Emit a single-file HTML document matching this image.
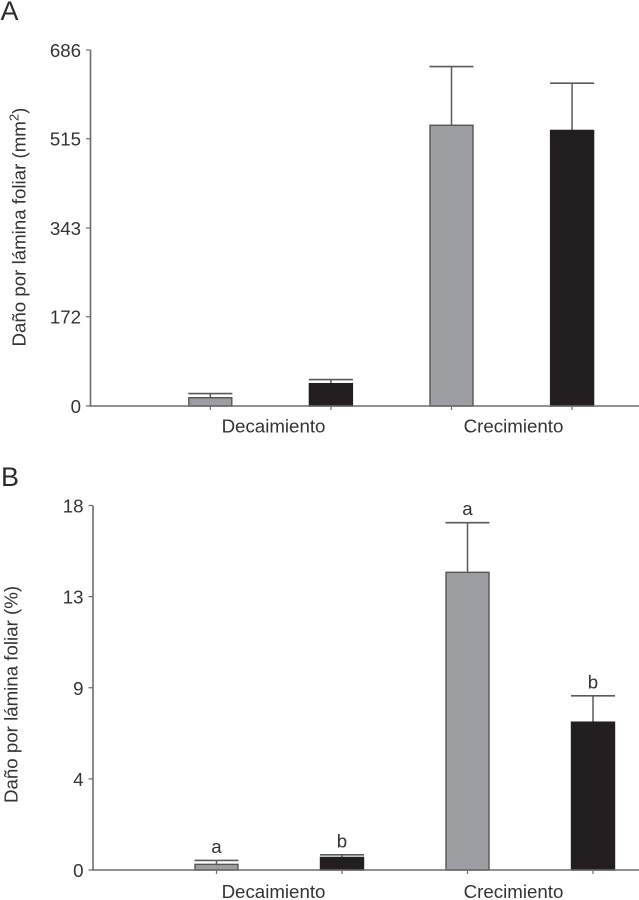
<!DOCTYPE html>
<html lang="es">
<head>
<meta charset="utf-8">
<title>Daño por lámina foliar</title>
<style>
html,body{margin:0;padding:0;background:#fff;}
svg{display:block;font-family:"Liberation Sans",sans-serif;fill:#333;}
</style>
</head>
<body>
<svg id="figure" width="639" height="900" viewBox="0 0 639 900" xmlns="http://www.w3.org/2000/svg">
  <rect x="0" y="0" width="639" height="900" fill="#fff"/>
  <text x="0.5" y="20" font-size="27" fill="#2b2b2b">A</text>
  <text x="1" y="486" font-size="27" fill="#2b2b2b">B</text>
  <text transform="translate(25.5,346.5) rotate(-90)" font-size="18.7" fill="#333">Daño por lámina foliar (mm<tspan font-size="13" dy="-7">2</tspan><tspan dy="7">)</tspan></text>
  <text transform="translate(17.5,803) rotate(-90)" font-size="18.7" fill="#333">Daño por lámina foliar (%)</text>
  <g id="panel-a"></g>
  <g id="panel-b"></g>
</svg>
<script>
const groupLabels = ["Decaimiento", "Crecimiento"];

const aMeans = [16, 43, 541, 531];
const aUpper = [24, 51, 654, 622];
const aTickValues = [0, 172, 343, 515, 686];
const aTickLabels = ["0", "172", "343", "515", "686"];

const bMeans = [0.28, 0.62, 14.7, 7.3];
const bUpper = [0.47, 0.75, 17.15, 8.6];
const bTickValues = [0, 4.5, 9, 13.5, 18];
const bTickLabels = ["0", "4", "9", "13", "18"];
const bLetters = ["a", "b", "a", "b"];

const SVG_NS = "http://www.w3.org/2000/svg";

function make(parent, tag, props) {
  const el = document.createElementNS(SVG_NS, tag);
  for (const key in props) {
    el.setAttribute(key, props[key]);
  }
  parent.appendChild(el);
  return el;
}

function drawPanel(rootId, prefix, cfg) {
  const root = document.getElementById(rootId);
  const yMax = cfg.tickValues[cfg.tickValues.length - 1];
  const yScale = function (v) {
    return cfg.zeroY - (v / yMax) * (cfg.zeroY - cfg.topY);
  };
  const xScale = function (i) {
    return cfg.firstX + cfg.stepX * i;
  };

  cfg.means.forEach(function (value, i) {
    const cx = xScale(i);
    const errLine = make(root, "line", { x1: cx, x2: cx, y1: yScale(value), y2: yScale(cfg.upper[i]), stroke: "#5a5a5a", "stroke-width": 1.5 });
    
    

    const cap = make(root, "line", { x1: cx - 22, x2: cx + 22, y1: yScale(cfg.upper[i]), y2: yScale(cfg.upper[i]), stroke: "#5a5a5a", "stroke-width": 1.6 });
    
    

    const isGray = i % 2 === 0;
    const bar = make(root, "rect", {
      x: cx - 21.5,
      y: yScale(value),
      width: 43,
      height: cfg.zeroY - yScale(value),
      fill: isGray ? "#9d9ea2" : "#231f20",
      stroke: isGray ? "#555" : "#231f20",
      "stroke-width": 1.4
    });
    
    

    const tick = make(root, "line", { x1: cx, x2: cx, y1: cfg.zeroY, y2: cfg.zeroY + 4, stroke: "#6b6b6b", "stroke-width": 1.2 });
    
    

    if (cfg.letters) {
      const letter = make(root, "text", { x: cx, y: yScale(cfg.upper[i]) - 7.5, "text-anchor": "middle", "font-size": 18.7, fill: "#333" });
      letter.textContent = cfg.letters[i];
      
      
    }
  });

  const yAxis = make(root, "line", { x1: cfg.axisX, x2: cfg.axisX, y1: cfg.topY, y2: cfg.zeroY, stroke: "#6b6b6b", "stroke-width": 1.6 });
  
  

  const xAxis = make(root, "line", { x1: cfg.axisX - 1, x2: 639, y1: cfg.zeroY, y2: cfg.zeroY, stroke: "#6b6b6b", "stroke-width": 1.6 });
  
  

  cfg.tickValues.forEach(function (value, i) {
    const y = yScale(value);
    const tick = make(root, "line", { x1: cfg.axisX - 4.5, x2: cfg.axisX, y1: y, y2: y, stroke: "#6b6b6b", "stroke-width": 1.2 });
    
    

    const label = make(root, "text", { x: cfg.axisX - 9.5, y: y + 7, "text-anchor": "end", "font-size": 18.7, fill: "#333" });
    label.textContent = cfg.tickLabels[i];
    
    
  });

  groupLabels.forEach(function (name, i) {
    const label = make(root, "text", { x: cfg.groupX[i], y: cfg.groupY, "text-anchor": "middle", "font-size": 18.7, fill: "#333" });
    label.textContent = name;
    
    
  });
}

drawPanel("panel-a", "panel-a", {
  means: aMeans,
  upper: aUpper,
  tickValues: aTickValues,
  tickLabels: aTickLabels,
  axisX: 90.5,
  topY: 50,
  zeroY: 406,
  firstX: 210.3,
  stepX: 120.6,
  groupX: [273.5, 513.5],
  groupY: 432.5
});

drawPanel("panel-b", "panel-b", {
  means: bMeans,
  upper: bUpper,
  tickValues: bTickValues,
  tickLabels: bTickLabels,
  letters: bLetters,
  axisX: 93,
  topY: 505.5,
  zeroY: 870,
  firstX: 216.5,
  stepX: 125.5,
  groupX: [273.5, 513.5],
  groupY: 898
});
</script>
</body>
</html>
